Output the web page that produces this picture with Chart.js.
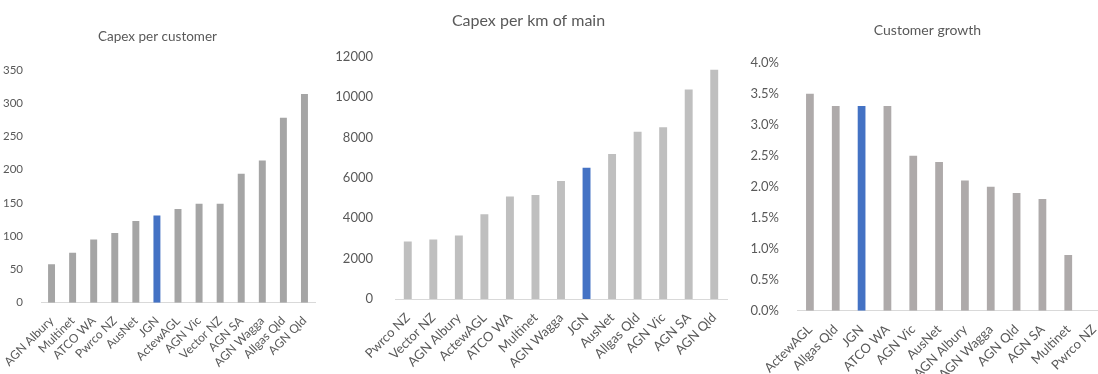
<!DOCTYPE html>
<html>
<head>
<meta charset="utf-8">
<script src="https://cdn.jsdelivr.net/npm/chart.js@4/dist/chart.umd.min.js"></script>
<style>
html,body{margin:0;padding:0;background:#fff;overflow:hidden;width:1098px;height:374px;}
canvas{position:absolute;top:0;}
#c1{left:0px;}
#c2{left:330px;}
#c3{left:748px;}
</style>
</head>
<body>
<canvas id="c1" width="328" height="374"></canvas>
<canvas id="c2" width="418" height="374"></canvas>
<canvas id="c3" width="378" height="374"></canvas>
<script>
// Chart 1: Capex per customer
const cat1 = ["AGN Albury","Multinet","ATCO WA","Pwrco NZ","AusNet","JGN","ActewAGL","AGN Vic","Vector NZ","AGN SA","AGN Wagga","Allgas Qld","AGN Qld"];
const val1 = [58,75,95,105,123,131,141,149,149,194,214,278,314];
// Chart 2: Capex per km of main
const cat2 = ["Pwrco NZ","Vector NZ","AGN Albury","ActewAGL","ATCO WA","Multinet","AGN Wagga","JGN","AusNet","Allgas Qld","AGN Vic","AGN SA","AGN Qld"];
const val2 = [2850,2950,3150,4200,5080,5150,5850,6500,7180,8280,8500,10380,11350];
// Chart 3: Customer growth (%)
const cat3 = ["ActewAGL","Allgas Qld","JGN","ATCO WA","AGN Vic","AusNet","AGN Albury","AGN Wagga","AGN Qld","AGN SA","Multinet","Pwrco NZ"];
const val3 = [3.5,3.3,3.3,3.3,2.5,2.4,2.1,2.0,1.9,1.8,0.9,0];

const FONT = "Lato, 'Open Sans', sans-serif";
const TXT = '#595959';
const BLUE = '#4472c4';
const HL = 'JGN';

function make(id, cats, vals, o) {
  const colors = cats.map(c => c === HL ? BLUE : o.gray);
  new Chart(document.getElementById(id), {
    type: 'bar',
    data: { labels: cats, datasets: [{ data: vals, backgroundColor: colors, borderWidth: 0,
      categoryPercentage: 1, barPercentage: o.barPct }] },
    options: {
      responsive: false, animation: false, devicePixelRatio: 1,
      layout: { padding: { left: 0, right: o.padR, top: 0, bottom: 0 } },
      plugins: {
        legend: { display: false }, tooltip: { enabled: false },
        title: { display: true, text: o.title, color: TXT,
          font: { family: FONT, size: o.titleSize, weight: 'normal', lineHeight: 1.2 },
          padding: { top: o.tPadTop, bottom: o.tPadBot } }
      },
      scales: {
        x: {
          grid: { display: false },
          border: { display: true, color: '#d9d9d9', width: 1 },
          ticks: { color: TXT, font: { family: FONT, size: o.xSize }, minRotation: 45, maxRotation: 45, autoSkip: false, padding: 3 },
          afterFit: s => { s.height = o.xH; }
        },
        y: {
          min: 0, max: o.max,
          grid: { display: false },
          border: { display: false },
          ticks: { color: TXT, font: { family: FONT, size: o.ySize }, stepSize: o.step, padding: o.yPad,
            callback: o.fmt },
          afterFit: s => { s.width = o.yW; }
        }
      }
    }
  });
}

make('c1', cat1, val1, {
  gray: '#a5a5a5', barPct: 0.33, padR: 13, title: 'Capex per customer', titleSize: 13.5,
  tPadTop: 28.6, tPadBot: 25.2, xSize: 12, xH: 71.3, max: 350, step: 50, ySize: 11.5, yPad: 10, yW: 41,
  fmt: v => v
});
make('c2', cat2, val2, {
  gray: '#bfbfbf', barPct: 0.31, padR: 21, title: 'Capex per km of main', titleSize: 16,
  tPadTop: 11.1, tPadBot: 26.4, xSize: 13, xH: 75, max: 12000, step: 2000, ySize: 13, yPad: 14, yW: 65,
  fmt: v => v
});
make('c3', cat3, val3, {
  gray: '#aeaaaa', barPct: 0.3, padR: 19, title: 'Customer growth', titleSize: 14,
  tPadTop: 22.3, tPadBot: 23.6, xSize: 13, xH: 63.3, max: 4, step: 0.5, ySize: 13, yPad: 10, yW: 49,
  fmt: v => v.toFixed(1) + '%'
});
</script>
</body>
</html>
